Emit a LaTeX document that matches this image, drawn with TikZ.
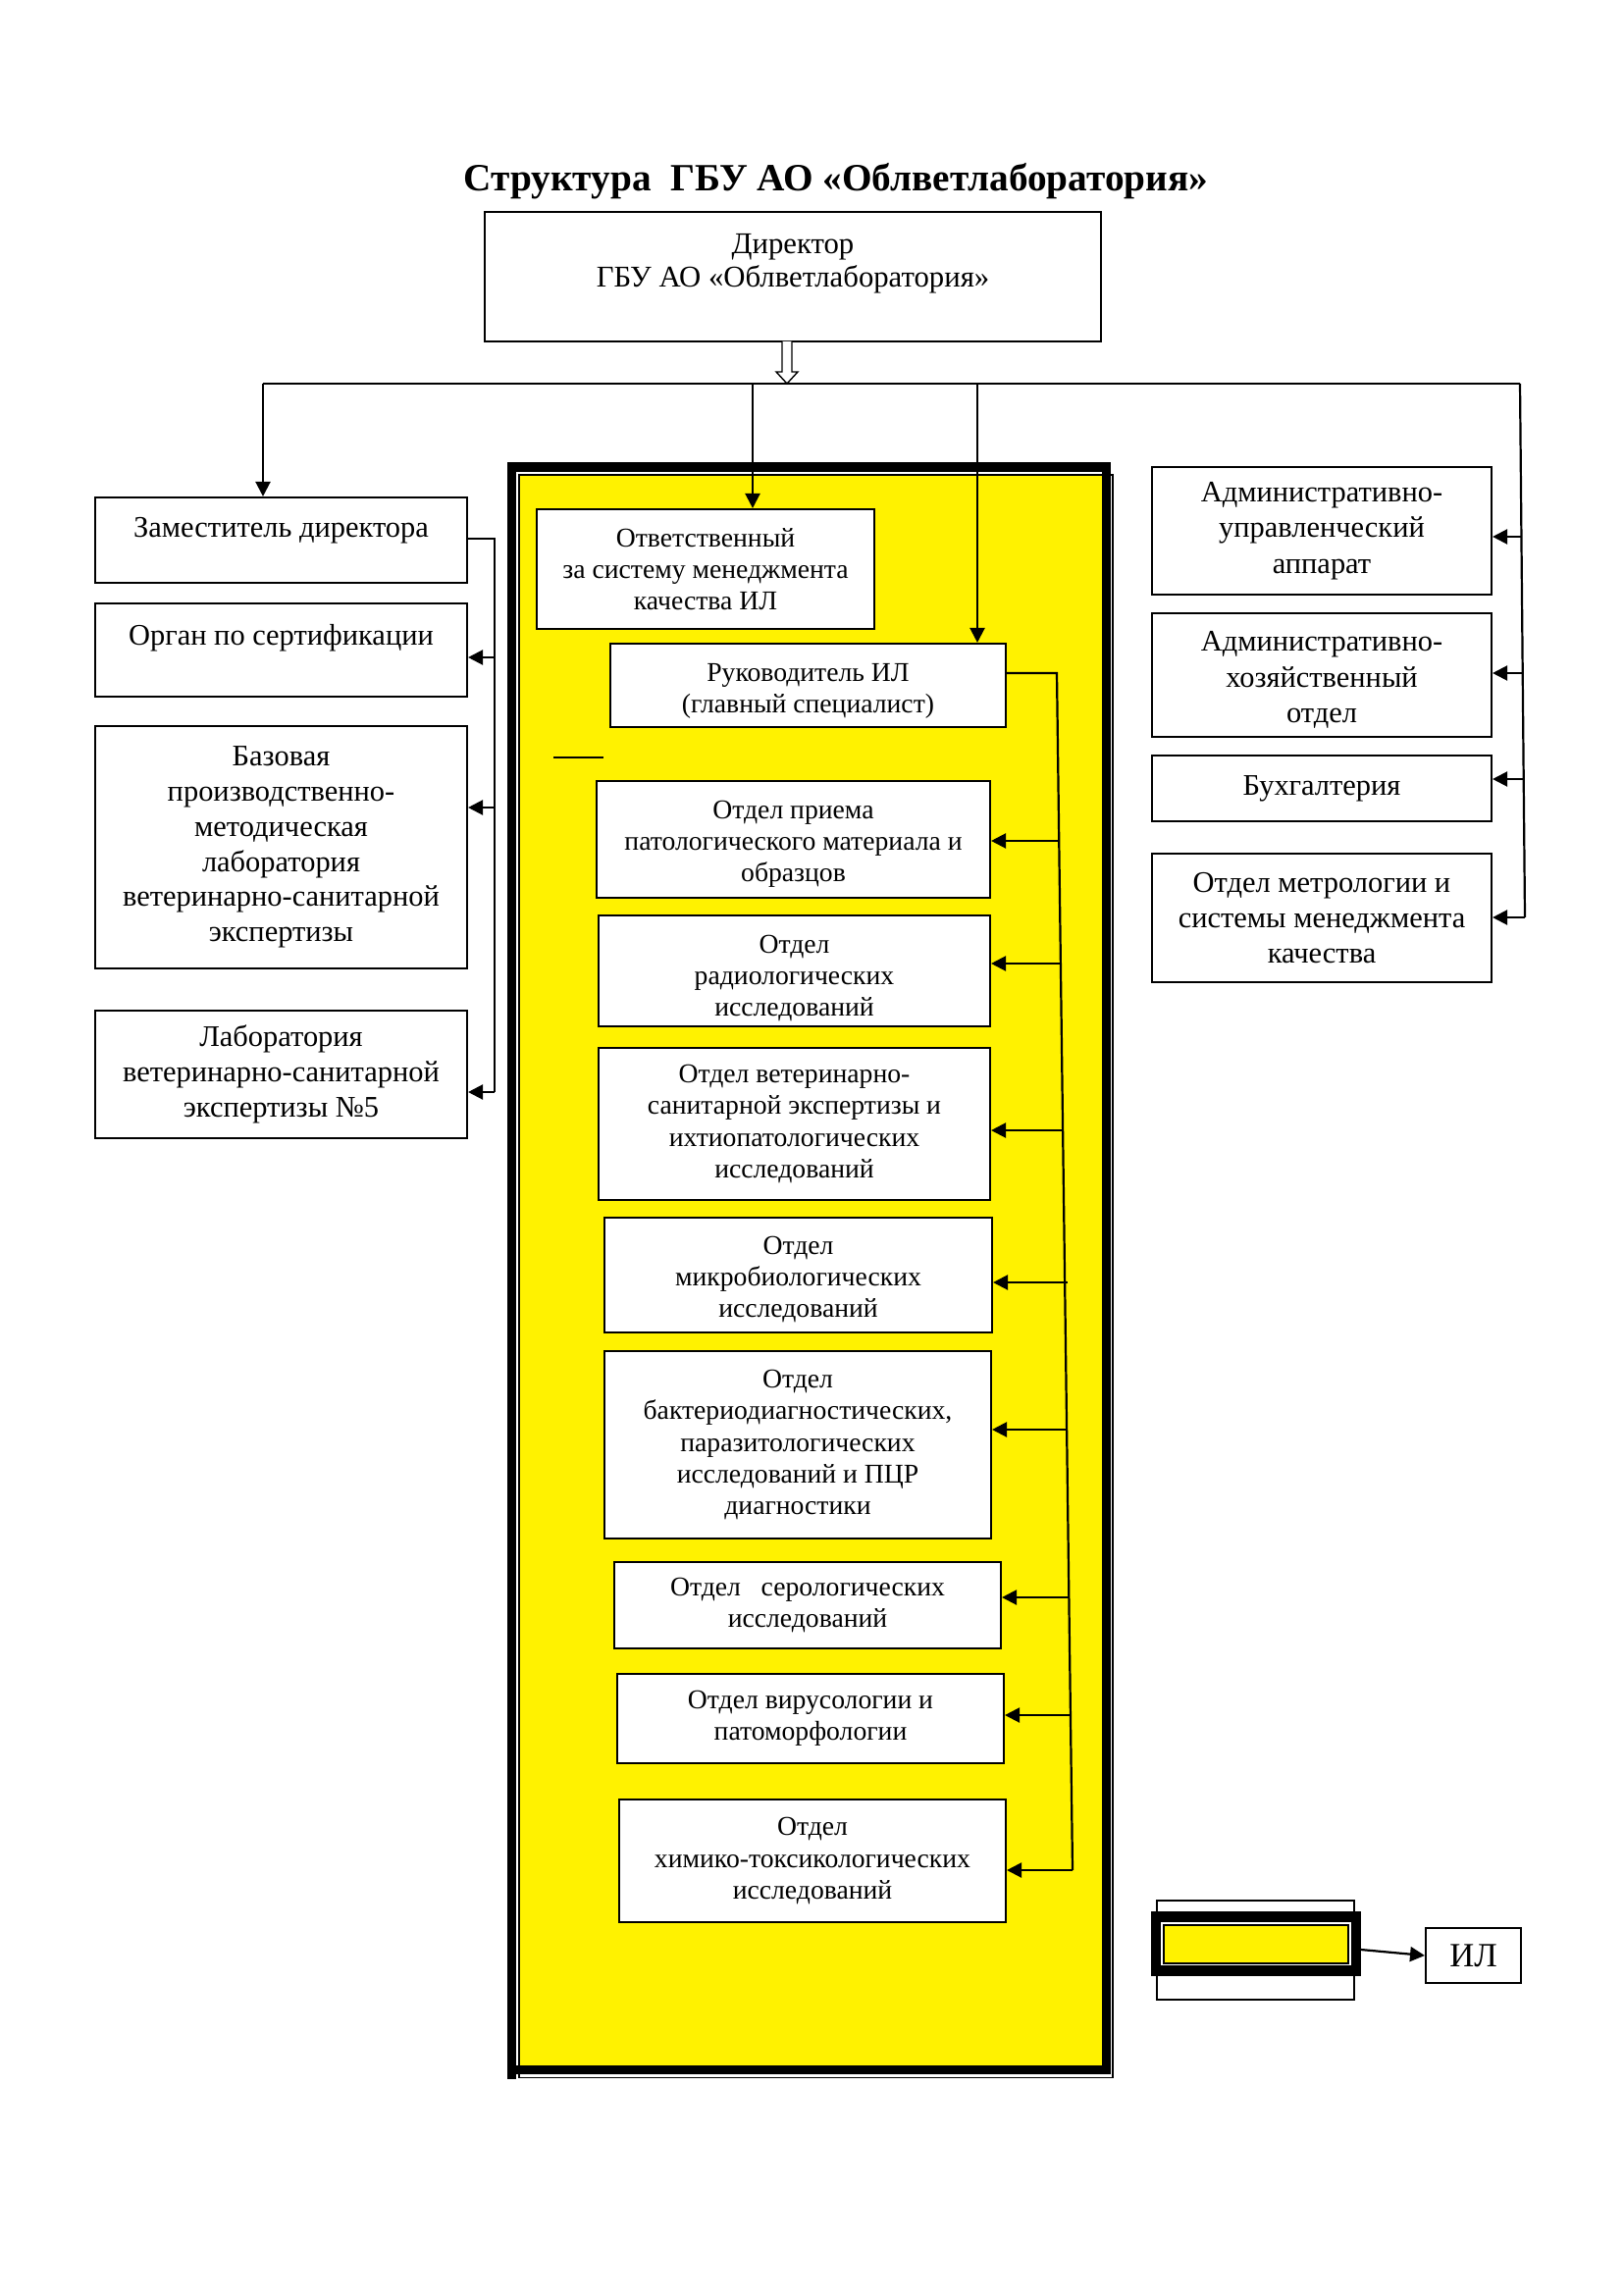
\documentclass[tikz,border=0pt]{standalone}
\usepackage{fontspec}
\setmainfont{Liberation Serif}
\usetikzlibrary{arrows.meta}
\begin{document}
\begin{tikzpicture}[x=0.127mm,y=-0.127mm,
  box/.style={draw,fill=white,line width=0.75pt,inner sep=0pt,align=center},
  bx/.style n args={4}{minimum width={(#3-#1)*0.127mm}, minimum height={(#4-#2)*0.127mm}, at={({(#1+#3)/2},{(#2+#4)/2})}},
  lf/.style={font=\fontsize{11}{12.9}\selectfont},
  rg/.style={font=\fontsize{11}{13.1}\selectfont},
  inn/.style={font=\fontsize{10}{11.6}\selectfont},
  conn/.style={line width=0.8pt},
  arr/.style={conn,-{Triangle[length=1.9mm,width=1.9mm]}},
]
\useasboundingbox (0,0) rectangle (1654,2339);

% title
\node (title) at (852,185) {\bfseries\fontsize{14.2}{17}\selectfont Структура\ \ ГБУ АО «Облветлаборатория»};

% director
\node[box, bx={494}{216}{1122}{348}, font=\fontsize{11.1}{12.2}\selectfont] (dir) {Директор\\ГБУ АО «Облветлаборатория»\\ \mbox{}};

% yellow frame
\fill[yellow] (530,485) rectangle (1124,2105);
\draw[line width=0.5pt] (529,484) rectangle (1134,2117.5);
\draw[line width=9.5*0.127mm] (521.5,476) rectangle (1127.5,2109.5);
\fill (517,2105) rectangle (526,2118.5);

% double arrow below director
\draw[line width=0.5pt, fill=white] (797,348) -- (797,379) -- (791,379) -- (802,391) -- (813,379) -- (807,379) -- (807,348);

% top distribution line
\coordinate (hl) at (268,391);
\coordinate (t1) at (767,391);
\coordinate (t2) at (996,391);
\coordinate (hr) at (1549,391);
\coordinate (rb) at (1554,935);

% left boxes
\node[box, lf, bx={97}{507}{476}{594}] (zam) {Заместитель директора\\[-3.1pt]\mbox{}};
\node[box, lf, bx={97}{615}{476}{710}] (org) {Орган по сертификации\\[-1.7pt]\mbox{}};
\node[box, lf, bx={97}{740}{476}{987}] (baz) {Базовая\\производственно-\\методическая\\лаборатория\\ветеринарно-санитарной\\экспертизы};
\node[box, lf, bx={97}{1030}{476}{1160}] (lab) {Лаборатория\\ветеринарно-санитарной\\экспертизы №5};

% right boxes
\node[box, rg, bx={1174}{476}{1520}{606}] (au) {Административно-\\управленческий\\аппарат};
\node[box, rg, bx={1174}{625}{1520}{751}] (ah) {\mbox{}\\[-2.2pt]Административно-\\хозяйственный\\отдел};
\node[box, rg, bx={1174}{770}{1520}{837}] (buh) {Бухгалтерия};
\node[box, rg, bx={1174}{870}{1520}{1001}] (met) {Отдел метрологии и\\системы менеджмента\\качества};

% inner boxes
\node[box, inn, bx={547}{519}{891}{641}] (otv) {Ответственный\\за систему менеджмента\\качества ИЛ};
\node[box, inn, bx={622}{656}{1025}{741}] (ruk) {\mbox{}\\[-1.1pt]Руководитель ИЛ\\(главный специалист)};
\node[box, inn, bx={608}{796}{1009}{915}] (pri) {\mbox{}\\[-1.6pt]Отдел приема\\патологического материала и\\образцов};
\node[box, inn, bx={610}{933}{1009}{1046}] (rad) {\mbox{}\\[0.6pt]Отдел\\радиологических\\исследований};
\node[box, inn, bx={610}{1068}{1009}{1223}] (vet) {Отдел ветеринарно-\\санитарной экспертизы и\\ихтиопатологических\\исследований};
\node[box, inn, bx={616}{1241}{1011}{1358}] (mic) {\mbox{}\\[-1.6pt]Отдел\\микробиологических\\исследований};
\node[box, inn, bx={616}{1377}{1010}{1568}] (bak) {Отдел\\бактериодиагностических,\\паразитологических\\исследований и ПЦР\\диагностики};
\node[box, inn, bx={626}{1592}{1020}{1680}] (ser) {Отдел\ \ \ серологических\\исследований};
\node[box, inn, bx={629}{1706}{1023}{1797}] (vir) {Отдел вирусологии и\\патоморфологии};
\node[box, inn, bx={631}{1834}{1025}{1959}] (him) {Отдел\\химико-токсикологических\\исследований};

% short stray line
\coordinate (s1) at (564,772);
\coordinate (s2) at (615,772);
\draw[conn] (s1) -- (s2);

% top connectors
\draw[conn] (hl) -- (hr);
\draw[arr] (hl) -- (hl |- zam.north);
\draw[arr] (t1) -- (t1 |- otv.north);
\draw[arr] (t2) -- (t2 |- ruk.north);
\draw[conn] (hr) -- (rb);

% right connectors
\coordinate (ra1) at (1550.4,547);
\coordinate (ra2) at (1551.7,686);
\coordinate (ra3) at (1552.7,794);
\draw[arr] (ra1) -- (ra1 -| au.east);
\draw[arr] (ra2) -- (ra2 -| ah.east);
\draw[arr] (ra3) -- (ra3 -| buh.east);
\draw[arr] (rb) -- (rb -| met.east);

% left connectors
\coordinate (lb1) at (504,549);
\coordinate (lb2) at (504,670);
\coordinate (lb3) at (504,823);
\coordinate (lb4) at (504,1113);
\draw[conn] (lb1 -| zam.east) -- (lb1) -- (lb4);
\draw[arr] (lb2) -- (lb2 -| org.east);
\draw[arr] (lb3) -- (lb3 -| baz.east);
\draw[arr] (lb4) -- (lb4 -| lab.east);

% inner bus
\coordinate (ib0) at (1077,686);
\coordinate (ib9) at (1093,1906);
\draw[conn] (ib0 -| ruk.east) -- (ib0) -- (ib9);
\coordinate (ib1) at (1079.2,857);
\coordinate (ib2) at (1080.9,982);
\coordinate (ib3) at (1083.1,1152);
\coordinate (ib4) at (1088,1307);
\coordinate (ib5) at (1088,1457);
\coordinate (ib6) at (1089.4,1628);
\coordinate (ib7) at (1090.9,1748);
\draw[arr] (ib1) -- (ib1 -| pri.east);
\draw[arr] (ib2) -- (ib2 -| rad.east);
\draw[arr] (ib3) -- (ib3 -| vet.east);
\draw[arr] (ib4) -- (ib4 -| mic.east);
\draw[arr] (ib5) -- (ib5 -| bak.east);
\draw[arr] (ib6) -- (ib6 -| ser.east);
\draw[arr] (ib7) -- (ib7 -| vir.east);
\draw[arr] (ib9) -- (ib9 -| him.east);

% legend
\node[draw, fill=white, line width=0.5pt, inner sep=0pt, bx={1179}{1937}{1380}{2038}] (legw) {};
\node[draw, fill=white, line width=10.5*0.127mm, inner sep=0pt, bx={1178}{1953.5}{1382}{2008.5}] (leg) {};
\node[draw, fill=yellow, line width=0.5pt, inner sep=0pt, bx={1186}{1962}{1374}{2001}] (legin) {};
\node[box, font=\fontsize{12.5}{14}\selectfont, bx={1453}{1965}{1550}{2021}] (il) {ИЛ};
\coordinate (la) at (1387,1987);
\draw[arr] (la) -- (il.west);

\end{tikzpicture}
\end{document}
